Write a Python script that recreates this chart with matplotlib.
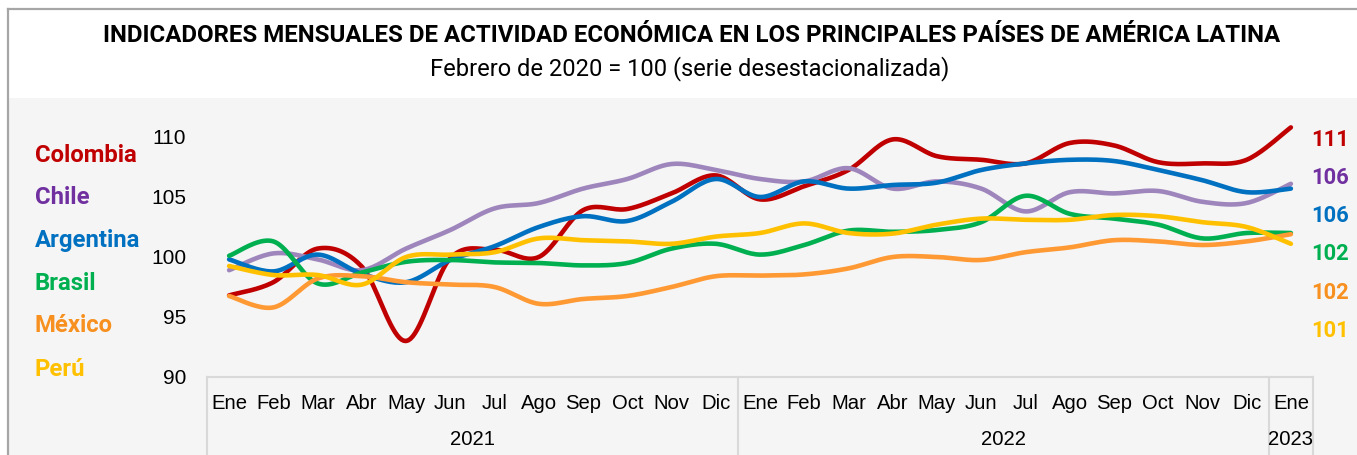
import numpy as np
import matplotlib
matplotlib.use("Agg")
import matplotlib.pyplot as plt
from matplotlib.patches import Rectangle
from matplotlib.lines import Line2D
import matplotlib.transforms as mtransforms

# datos (feb 2020 = 100)
meses = ["Ene", "Feb", "Mar", "Abr", "May", "Jun", "Jul", "Ago", "Sep", "Oct", "Nov", "Dic"] * 2 + ["Ene"]
anios = ["2021", "2022", "2023"]

colombia = [96.8, 97.9, 100.7, 99.2, 93.0, 99.9, 100.6, 100.0, 103.9, 104.0, 105.3, 106.8,
            104.8, 105.9, 107.25, 109.8, 108.4, 108.1, 107.8, 109.5, 109.3, 107.9, 107.8, 108.1, 110.8]
chile = [98.9, 100.3, 99.8, 98.9, 100.7, 102.25, 104.05, 104.5, 105.7, 106.5, 107.75, 107.25,
         106.5, 106.3, 107.4, 105.7, 106.3, 105.7, 103.8, 105.4, 105.3, 105.5, 104.6, 104.5, 106.1]
argentina = [99.8, 98.8, 100.2, 98.6, 97.9, 99.75, 100.9, 102.5, 103.4, 103.0, 104.6, 106.5,
             105.0, 106.3, 105.7, 106.0, 106.2, 107.25, 107.8, 108.1, 108.0, 107.25, 106.4, 105.4, 105.7]
brasil = [100.1, 101.3, 97.8, 98.7, 99.6, 99.75, 99.55, 99.5, 99.3, 99.5, 100.7, 101.1,
          100.2, 101.0, 102.2, 102.1, 102.25, 102.9, 105.1, 103.6, 103.2, 102.7, 101.55, 102.0, 102.0]
mexico = [96.75, 95.8, 98.2, 98.4, 97.9, 97.7, 97.5, 96.1, 96.5, 96.75, 97.5, 98.4,
          98.45, 98.55, 99.05, 100.0, 100.0, 99.75, 100.4, 100.8, 101.4, 101.3, 101.0, 101.3, 101.9]
peru = [99.25, 98.5, 98.5, 97.7, 100.0, 100.2, 100.4, 101.55, 101.4, 101.3, 101.1, 101.7,
        102.0, 102.8, 102.0, 101.95, 102.7, 103.2, 103.1, 103.1, 103.5, 103.4, 102.9, 102.5, 101.1]

paises = ["Colombia", "Chile", "Argentina", "Brasil", "México", "Perú"]
series = [colombia, chile, argentina, brasil, mexico, peru]
col_linea = ["#c00000", "#9e86bd", "#0070c0", "#00b050", "#ff9933", "#ffc000"]
col_texto = ["#c00000", "#7030a0", "#0070c0", "#00b050", "#f7901e", "#ffc000"]


def suavizar(y, n=20):
    # curva suave tipo excel (bezier con tangentes catmull-rom)
    y = np.asarray(y, float)
    x = np.arange(len(y), dtype=float)
    px, py = [], []
    t = np.linspace(0, 1, n, endpoint=False)
    for i in range(len(y) - 1):
        i0, i3 = max(i - 1, 0), min(i + 2, len(y) - 1)
        p0 = np.array([x[i], y[i]])
        p3 = np.array([x[i + 1], y[i + 1]])
        c1 = p0 + (np.array([x[i + 1], y[i + 1]]) - np.array([x[i0], y[i0]])) / 6
        c2 = p3 - (np.array([x[i3], y[i3]]) - np.array([x[i], y[i]])) / 6
        for k in range(2):
            pts = ((1 - t) ** 3 * p0[k] + 3 * (1 - t) ** 2 * t * c1[k]
                   + 3 * (1 - t) * t ** 2 * c2[k] + t ** 3 * p3[k])
            (px if k == 0 else py).extend(pts)
    px.append(x[-1])
    py.append(y[-1])
    return np.array(px), np.array(py)


W, H = 1357, 455
fig = plt.figure(figsize=(W / 100, H / 100), dpi=100)
fig.patch.set_facecolor("white")

# fondo gris de la zona del grafico
fig.patches.append(Rectangle((9 / W, 0), 1, 1 - 98 / H, transform=fig.transFigure,
                             facecolor="#f5f5f5", edgecolor="none", zorder=-5))
fig.lines.append(Line2D([8 / W, 8 / W], [0, 1 - 9 / H], transform=fig.transFigure, color="#a6a6a6",
                        lw=1.6, zorder=-4))
fig.lines.append(Line2D([8 / W, 1], [1 - 9 / H, 1 - 9 / H], transform=fig.transFigure, color="#a6a6a6",
                        lw=1.6, zorder=-4))

fig.text(692 / W, 1 - 36 / H,
         "INDICADORES MENSUALES DE ACTIVIDAD ECONÓMICA EN LOS PRINCIPALES PAÍSES DE AMÉRICA LATINA",
         ha="center", va="center", fontsize=17.3, fontweight="bold", family="Roboto", color="black")
fig.text(690 / W, 1 - 69 / H, "Febrero de 2020 = 100 (serie desestacionalizada)",
         ha="center", va="center", fontsize=17, family="Roboto", color="black")

ax = fig.add_axes([207 / W, 78 / H, 1106 / W, 264 / H])
ax.set_facecolor("none")
ax.set_zorder(2)
ax.set_xlim(-0.5, 24.5)
ax.set_ylim(90, 112)
for s in ax.spines.values():
    s.set_visible(False)

orden = [1, 0, 2, 3, 4, 5]
for i in orden:
    xs, ys = suavizar(series[i])
    ax.plot(xs, ys, color=col_linea[i], lw=3.3, solid_capstyle="round", zorder=3 + i)

ax.set_yticks([90, 95, 100, 105, 110])
ax.tick_params(axis="y", length=0, pad=15, labelsize=15)
for lab in ax.get_yticklabels():
    lab.set_family("Liberation Sans")
ax.set_xticks([])

# eje de categorias con dos niveles
trans = mtransforms.blended_transform_factory(ax.transData, ax.transAxes)
for i, m in enumerate(meses):
    ax.text(i, -0.1, m, transform=trans, ha="center", va="center", fontsize=14.6,
            family="Liberation Sans")
limites = [-0.5, 11.5, 23.5, 24.5]
for j, a in enumerate(anios):
    ax.text((limites[j] + limites[j + 1]) / 2, -0.238, a, transform=trans, ha="center", va="center",
            fontsize=14.6, family="Liberation Sans")
for b in limites:
    ax.plot([b, b], [0, -0.3], transform=trans, color="#d9d9d9", lw=1.5, clip_on=False)
ax.plot([-0.5, 24.5], [0, 0], transform=trans, color="#d9d9d9", lw=1.5, clip_on=False)

# etiquetas de paises a la izquierda
y_izq = [155, 197, 240, 283, 326, 369]
for p, c, yy in zip(paises, col_texto, y_izq):
    fig.text(35 / W, 1 - yy / H, p, ha="left", va="center", fontsize=17.2, fontweight="bold",
             family="Roboto", color=c)

# ultimo valor a la derecha
y_der = [140, 178, 216, 254, 293, 331]
for s, c, yy in zip(series, col_texto, y_der):
    fig.text(1330 / W, 1 - yy / H, f"{round(s[-1]):d}", ha="center", va="center", fontsize=15.8,
             fontweight="bold", family="Roboto", color=c)

fig.savefig("out.png", dpi=100)
